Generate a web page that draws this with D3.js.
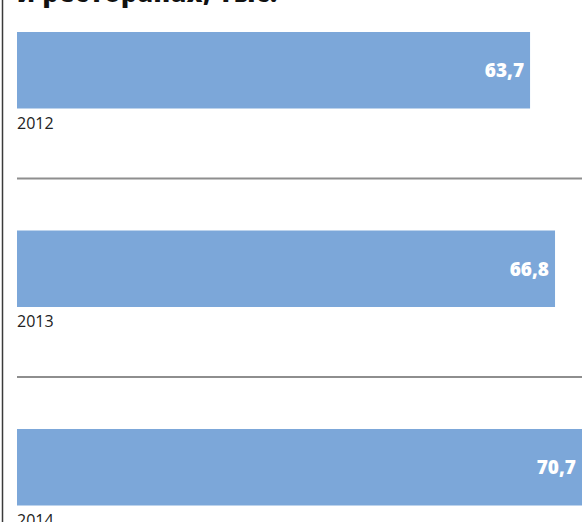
<!DOCTYPE html>
<html>
<head>
<meta charset="utf-8">
<script src="https://cdn.jsdelivr.net/npm/d3@7"></script>
<style>
  html, body { margin: 0; padding: 0; background: #fff; }
  svg { display: block; }
</style>
</head>
<body>
<svg id="chart" width="582" height="522"></svg>
<script>
const titleText = "и ресторанах, тыс.";
const years = ["2012", "2013", "2014"];
const values = [63.7, 66.8, 70.7];
const valueLabels = ["63,7", "66,8", "70,7"];

const W = 582, H = 522;
const svg = d3.select("#chart");
const font = "'Open Sans', 'Noto Sans', sans-serif";

const x = d3.scaleLinear().domain([0, 70]).range([17, 580.8]);
const y = d3.scaleBand().domain(years).range([32, 505.5]).paddingInner(0.6146).paddingOuter(0).align(0);

// left frame line
svg.append("line")
  .attr("x1", 2.5).attr("x2", 2.5).attr("y1", 0).attr("y2", H)
  .attr("stroke", "#3a3a3a").attr("stroke-width", 1.5);

// title (mostly cut off at the top)
svg.append("text")
  .attr("x", 17).attr("y", 2)
  .attr("font-family", font).attr("font-weight", 800)
  .attr("font-size", 25).attr("fill", "#111")
  .attr("letter-spacing", 0.5)
  .text(titleText);

// separators
svg.selectAll("line.sep")
  .data(years.slice(0, -1))
  .enter().append("line")
  .attr("class", "sep")
  .attr("x1", 17).attr("x2", W)
  .attr("y1", d => y(d) + y.bandwidth() + 70)
  .attr("y2", d => y(d) + y.bandwidth() + 70)
  .attr("stroke", "#8e8e8e").attr("stroke-width", 2);

// bars
svg.selectAll("rect.bar")
  .data(years)
  .enter().append("rect")
  .attr("class", "bar")
  .attr("x", x(0))
  .attr("y", d => y(d))
  .attr("width", (d, i) => x(values[i]) - x(0))
  .attr("height", y.bandwidth())
  .attr("fill", "#7ca7d9");

// value labels
svg.selectAll("text.val")
  .data(years)
  .enter().append("text")
  .attr("class", "val")
  .attr("x", (d, i) => Math.min(x(values[i]), W) - 6)
  .attr("y", d => y(d) + y.bandwidth() / 2 + 7)
  .attr("text-anchor", "end")
  .attr("font-family", font).attr("font-weight", 800)
  .attr("font-size", 19).attr("fill", "#fff")
  .text((d, i) => valueLabels[i]);

// year labels
svg.selectAll("text.year")
  .data(years)
  .enter().append("text")
  .attr("class", "year")
  .attr("x", 17)
  .attr("y", d => y(d) + y.bandwidth() + 20)
  .attr("font-family", font).attr("font-size", 16)
  .attr("fill", "#222")
  .text(d => d);
</script>
</body>
</html>
